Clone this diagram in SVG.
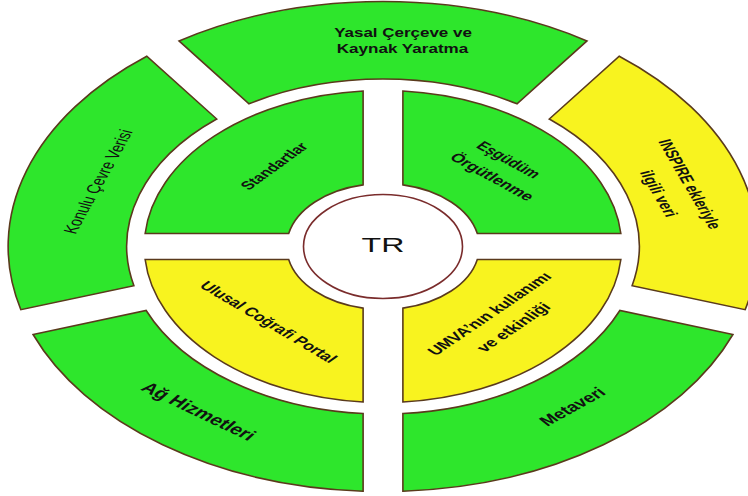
<svg xmlns="http://www.w3.org/2000/svg" width="748" height="496" viewBox="0 0 748 496">
<style>
  .seg { stroke: #5a3a1c; stroke-width: 1.6; vector-effect: non-scaling-stroke; stroke-linejoin: miter; }
  .green { fill: #2ee62c; }
  .yellow { fill: #f8f31f; }
  .hub { fill: #ffffff; stroke: #7a2c2c; stroke-width: 1.6; vector-effect: non-scaling-stroke; }
  .t { font-family: "Liberation Sans", Arial, sans-serif; fill: #111111; text-anchor: middle; dominant-baseline: central; }
  .b { font-weight: bold; }
</style>
<rect x="0" y="0" width="748" height="496" fill="#ffffff"/>

<g id="yasal">
  <path class="seg green" transform="matrix(1.53,0,0,1,383,246.5)" d="M133.3,-205.6 A245,245 0 0 0 -133.3,-205.6 L-87.6,-142.7 A167.5,167.5 0 0 1 87.6,-142.7 Z"/>
  <text class="t b" font-size="13" textLength="90" lengthAdjust="spacingAndGlyphs" transform="translate(403,33) scale(1.53,1)">Yasal Çerçeve ve</text>
  <text class="t b" font-size="13" textLength="86" lengthAdjust="spacingAndGlyphs" transform="translate(402.5,48.5) scale(1.53,1)">Kaynak Yaratma</text>
</g>

<g id="konulu">
  <path class="seg green" transform="matrix(1.53,0,0,1,383,246.5)" d="M-154.4,-190.3 A245,245 0 0 0 -236.7,63.2 L-162.8,39.2 A167.5,167.5 0 0 1 -108.7,-127.5 Z"/>
  <text class="t" font-size="12.5" textLength="110" lengthAdjust="spacingAndGlyphs" transform="translate(97.5,181.5) scale(1.53,1) rotate(-70)">Konulu Çevre Verisi</text>
</g>

<g id="inspire">
  <path class="seg yellow" transform="matrix(1.53,0,0,1,383,246.5)" d="M236.7,63.2 A245,245 0 0 0 154.4,-190.3 L108.7,-127.5 A167.5,167.5 0 0 1 162.8,39.2 Z"/>
  <text class="t b" font-size="12" textLength="95" lengthAdjust="spacingAndGlyphs" transform="translate(690,184) scale(1.53,1) rotate(69)">INSPIRE ekleriyle</text>
  <text class="t b" font-size="12" textLength="49" lengthAdjust="spacingAndGlyphs" transform="translate(659,193.5) scale(1.53,1) rotate(69)">ilgili veri</text>
</g>

<g id="ag-hizmetleri">
  <path class="seg green" transform="matrix(1.53,0,0,1,383,246.5)" d="M-228.7,88 A245,245 0 0 0 -13,244.7 L-13,167 A167.5,167.5 0 0 1 -154.8,64 Z"/>
  <text class="t b" font-size="15" textLength="88" lengthAdjust="spacingAndGlyphs" transform="translate(199,411) scale(1.53,1) rotate(36)">Ağ Hizmetleri</text>
</g>

<g id="metaveri">
  <path class="seg green" transform="matrix(1.53,0,0,1,383,246.5)" d="M13,244.7 A245,245 0 0 0 228.7,88 L154.8,64 A167.5,167.5 0 0 1 13,167 Z"/>
  <text class="t b" font-size="14" textLength="51" lengthAdjust="spacingAndGlyphs" transform="translate(572.5,406.7) scale(1.53,1) rotate(-40)">Metaveri</text>
</g>

<g id="standartlar">
  <path class="seg green" transform="matrix(1.53,0,0,1,383,246.5)" d="M-13,-155.46 A156,156 0 0 0 -155.46,-13 L-61.64,-13 A63,63 0 0 1 -13,-61.64 Z"/>
  <text class="t b" font-size="12" textLength="59" lengthAdjust="spacingAndGlyphs" transform="translate(274,166) scale(1.53,1) rotate(-48)">Standartlar</text>
</g>

<g id="esgudum">
  <path class="seg green" transform="matrix(1.53,0,0,1,383,246.5)" d="M13,-155.46 A156,156 0 0 1 155.46,-13 L61.64,-13 A63,63 0 0 0 13,-61.64 Z"/>
  <text class="t b" font-size="12.5" textLength="50" lengthAdjust="spacingAndGlyphs" transform="translate(509,159.5) scale(1.53,1) rotate(40)">Eşgüdüm</text>
  <text class="t b" font-size="12.5" textLength="67" lengthAdjust="spacingAndGlyphs" transform="translate(492.5,176.5) scale(1.53,1) rotate(40)">Örgütlenme</text>
</g>

<g id="ulusal">
  <path class="seg yellow" transform="matrix(1.53,0,0,1,383,246.5)" d="M-155.46,13 A156,156 0 0 0 -13,155.46 L-13,61.64 A63,63 0 0 1 -61.64,13 Z"/>
  <text class="t b" font-size="12.5" textLength="115" lengthAdjust="spacingAndGlyphs" transform="translate(269,321.7) scale(1.53,1) rotate(42)">Ulusal Coğrafi Portal</text>
</g>

<g id="umva">
  <path class="seg yellow" transform="matrix(1.53,0,0,1,383,246.5)" d="M13,155.46 A156,156 0 0 0 155.46,13 L61.64,13 A63,63 0 0 1 13,61.64 Z"/>
  <text class="t b" font-size="12.5" textLength="110" lengthAdjust="spacingAndGlyphs" transform="translate(489,313.5) scale(1.53,1) rotate(-46)">UMVA’nın kullanımı</text>
  <text class="t b" font-size="12.5" textLength="63" lengthAdjust="spacingAndGlyphs" transform="translate(513,327) scale(1.53,1) rotate(-46)">ve etkinliği</text>
</g>

<g id="tr">
  <ellipse class="hub" cx="383" cy="246.5" rx="79.5" ry="52"/>
  <text class="t" font-size="21" transform="translate(383,245) scale(1.53,1)" fill="#222222">TR</text>
</g>

<g id="connectors"></g>
</svg>
